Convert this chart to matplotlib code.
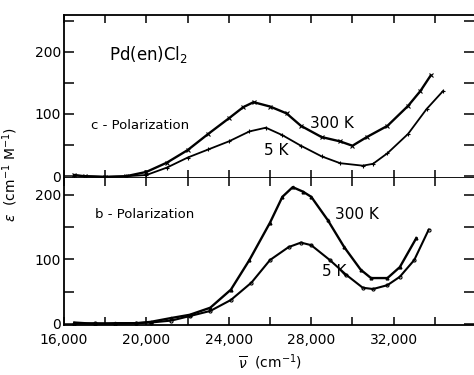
import matplotlib
matplotlib.use('Agg')
import matplotlib.pyplot as plt
from matplotlib.ticker import MultipleLocator, FixedLocator, FixedFormatter

# c-polarization (top panel)
c300_x = [16500, 17000, 18000, 19000, 20000, 21000, 22000, 23000, 24000, 24700, 25200,
	26000, 26800, 27500, 28500, 29400, 30000, 30700, 31700, 32700, 33300, 33800]
c300_y = [2, 0, -1, 0, 7, 22, 42, 68, 93, 111, 119, 112, 101, 81, 63, 56, 49, 63, 81, 113, 137, 162]

c5_x = [16500, 18000, 19000, 20000, 21000, 22000, 23000, 24000, 25000, 25800, 26600,
	27500, 28500, 29400, 30500, 31000, 31700, 32700, 33600, 34400]
c5_y = [1, -1, 0, 2, 14, 30, 43, 56, 72, 78, 66, 49, 32, 21, 17, 20, 37, 68, 108, 137]

# b-polarization (bottom panel)
b300_x = [16500, 17500, 18500, 19500, 20200, 21200, 22100, 23100, 24100, 25000, 26000,
	26600, 27100, 27600, 28000, 28800, 29600, 30400, 30900, 31700, 32300, 33100]
b300_y = [2, 0, 1, 1, 3, 9, 14, 25, 53, 99, 157, 197, 212, 205, 197, 161, 119, 84, 71, 71, 88, 133]

b5_x = [16500, 17500, 18500, 19500, 20200, 21200, 22100, 23100, 24100, 25100, 26000,
	26900, 27500, 28000, 28900, 29700, 30500, 31000, 31700, 32300, 33000, 33700]
b5_y = [0, 1, 0, 1, 2, 5, 12, 20, 37, 64, 99, 119, 126, 122, 99, 76, 56, 54, 60, 73, 99, 146]

xtick_vals = [16000, 20000, 24000, 28000, 32000]
xtick_labels = ['16,000', '20,000', '24,000', '28,000', '32,000']


def style_axis(ax, show_top, show_bottom_labels):
	ax.set_xlim(16000, 35900)
	ax.spines['right'].set_visible(False)
	ax.spines['top'].set_visible(show_top)
	for s in ax.spines.values():
		s.set_linewidth(1.3)
	ax.xaxis.set_major_locator(MultipleLocator(2000))
	if show_bottom_labels:
		ax.xaxis.set_major_locator(FixedLocator(list(range(16000, 36000, 2000))))
		labs = []
		for v in range(16000, 36000, 2000):
			labs.append(xtick_labels[xtick_vals.index(v)] if v in xtick_vals else '')
		ax.xaxis.set_major_formatter(FixedFormatter(labs))
	else:
		ax.tick_params(axis='x', labelbottom=False)
	ax.yaxis.set_major_locator(MultipleLocator(100))
	ax.yaxis.set_minor_locator(MultipleLocator(50))
	ax.tick_params(axis='x', which='both', direction='in', top=True, bottom=True,
		length=6, width=1.1, labelsize=10, pad=6)
	ax.tick_params(axis='y', which='both', direction='in', left=True, right=True,
		length=7, width=1.1, labelsize=10, pad=2)


def main():
	fig = plt.figure(figsize=(4.74, 3.75), dpi=100)
	ax1 = fig.add_axes([0.135, 0.525, 0.865, 0.435])
	ax2 = fig.add_axes([0.135, 0.133, 0.865, 0.392])

	ax1.plot(c300_x, c300_y, color='black', lw=1.7, marker='x', ms=2.5, mew=0.8)
	ax1.plot(c5_x, c5_y, color='black', lw=1.3, marker='+', ms=2.5, mew=0.8)
	ax1.set_ylim(-3, 259)
	style_axis(ax1, True, False)
	ax1.text(18200, 196, 'Pd(en)Cl$_2$', fontsize=12, va='center')
	ax1.text(17300, 82, 'c - Polarization', fontsize=9.5, va='center')
	ax1.text(27950, 84, '300 K', fontsize=11, va='center')
	ax1.text(25700, 41, '5 K', fontsize=11, va='center')

	ax2.plot(b300_x, b300_y, color='black', lw=1.7, marker='^', ms=2)
	ax2.plot(b5_x, b5_y, color='black', lw=1.5, marker='o', ms=2.2, mfc='none', mew=0.8)
	ax2.set_ylim(-2, 226)
	style_axis(ax2, False, True)
	ax2.text(17500, 170, 'b - Polarization', fontsize=9.5, va='center')
	ax2.text(29150, 169, '300 K', fontsize=11, va='center')
	ax2.text(28500, 81, '5 K', fontsize=11, va='center')

	fig.text(0.022, 0.535, r'$\epsilon$  (cm$^{-1}$ M$^{-1}$)', rotation=90,
		ha='center', va='center', fontsize=10)
	fig.text(0.57, 0.033, r'$\overline{\nu}$  (cm$^{-1}$)', ha='center', va='center', fontsize=10)

	fig.savefig('out.png', dpi=100)


if __name__ == '__main__':
	main()
